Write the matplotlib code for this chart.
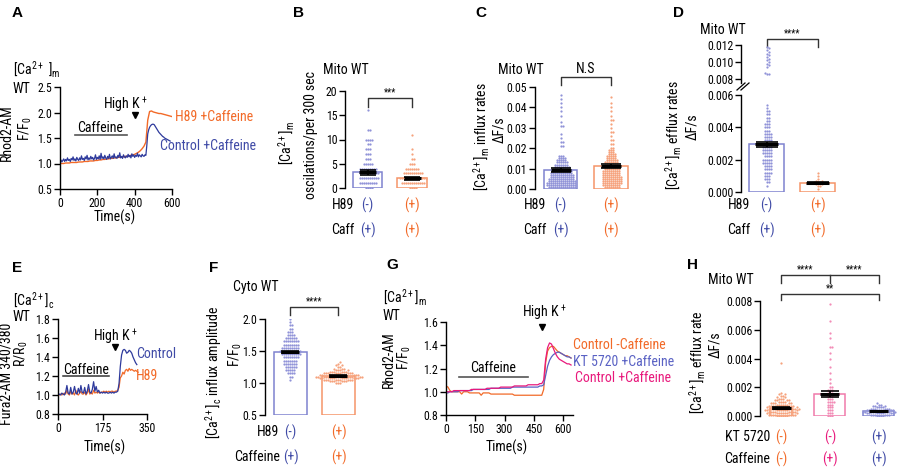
import numpy as np
import matplotlib
matplotlib.use('Agg')
import matplotlib.pyplot as plt
from matplotlib import font_manager
from matplotlib.transforms import Affine2D, blended_transform_factory
from matplotlib.lines import Line2D

# ---------------- data ----------------
# A: mito Ca2+ traces (Rhod2, F/F0)
a_t_ctrl = np.arange(0, 595, 5)
a_ctrl = [1.04, 1.07, 1.03, 1.06, 1.09, 1.04, 1.08, 1.05, 1.11, 1.06,
          1.08, 1.04, 1.10, 1.07, 1.13, 1.06, 1.09, 1.05, 1.12, 1.08,
          1.06, 1.11, 1.07, 1.15, 1.08, 1.10, 1.06, 1.13, 1.09, 1.16,
          1.07, 1.11, 1.08, 1.14, 1.09, 1.12, 1.07, 1.10, 1.17, 1.08,
          1.12, 1.09, 1.15, 1.08, 1.20, 1.10, 1.13, 1.09, 1.16, 1.11,
          1.08, 1.14, 1.10, 1.18, 1.09, 1.12, 1.15, 1.10, 1.19, 1.11,
          1.13, 1.10, 1.16, 1.12, 1.21, 1.11, 1.14, 1.10, 1.17, 1.13,
          1.11, 1.15, 1.12, 1.18, 1.13, 1.16, 1.11, 1.19, 1.14, 1.17,
          1.12, 1.16, 1.14, 1.20, 1.13, 1.17, 1.15, 1.13, 1.18, 1.15,
          1.14, 1.17, 1.16,
          1.35, 1.58, 1.66, 1.71, 1.74, 1.76, 1.77, 1.77, 1.76, 1.73,
          1.70, 1.67, 1.64, 1.61, 1.59, 1.57, 1.55, 1.53, 1.52, 1.50,
          1.49, 1.48, 1.47, 1.46, 1.45, 1.44]
a_t_h89 = np.arange(0, 610, 10)
a_h89 = [1.00, 1.00, 1.00, 1.01, 1.01, 1.01, 1.02, 1.02, 1.02, 1.02,
         1.03, 1.03, 1.03, 1.04, 1.04, 1.04, 1.05, 1.05, 1.05, 1.06,
         1.06, 1.07, 1.07, 1.08, 1.08, 1.09, 1.09, 1.10, 1.10, 1.11,
         1.11, 1.12, 1.12, 1.13, 1.13, 1.14, 1.14, 1.15, 1.16, 1.17,
         1.18, 1.20, 1.22, 1.25, 1.29, 1.34, 1.42, 1.85, 2.02, 2.03,
         2.01, 2.00, 1.99, 1.98, 1.98, 1.97, 1.96, 1.95, 1.94, 1.93, 1.92]

# B: oscillation counts (value rows and number of cells in each row)
b_ctrl_vals = [0, 1, 2, 3, 4, 5, 6, 7, 8, 9, 10, 12, 16]
b_ctrl_n = [4, 9, 10, 10, 9, 5, 3, 3, 3, 2, 4, 2, 1]
b_h89_vals = [0, 1, 2, 3, 4, 5, 6, 7, 8, 11]
b_h89_n = [4, 12, 14, 10, 7, 3, 2, 1, 1, 1]
b_mean = [3.2, 2.0]
b_sem = [0.45, 0.25]

# C: influx rates
c_ctrl_vals = [0.001, 0.002, 0.003, 0.004, 0.005, 0.006, 0.007, 0.008, 0.009,
               0.010, 0.011, 0.012, 0.013, 0.014, 0.015, 0.016, 0.021, 0.023,
               0.025, 0.027, 0.031, 0.033, 0.036, 0.038, 0.040, 0.042, 0.044, 0.046]
c_ctrl_n = [14, 15, 15, 14, 13, 12, 12, 11, 10, 9, 8, 7, 6, 5, 4, 3, 2, 2,
            1, 1, 2, 1, 1, 1, 1, 1, 1, 1]
c_h89_vals = [0.001, 0.002, 0.003, 0.004, 0.005, 0.006, 0.007, 0.008, 0.009,
              0.010, 0.011, 0.012, 0.013, 0.014, 0.015, 0.016, 0.017, 0.018,
              0.019, 0.020, 0.022, 0.024, 0.026, 0.028, 0.030, 0.032, 0.034,
              0.036, 0.038, 0.040, 0.042, 0.045]
c_h89_n = [8, 9, 10, 10, 10, 10, 9, 9, 9, 8, 8, 7, 7, 6, 5, 5, 4, 3, 3, 2,
           2, 2, 1, 2, 1, 1, 2, 1, 1, 1, 1, 1]
c_mean = [0.0093, 0.0112]
c_sem = [0.0008, 0.0009]

# D: efflux rates (broken axis)
d_ctrl_vals = [0.0004, 0.0006, 0.0008, 0.0010, 0.0012, 0.0014, 0.0016, 0.0018,
               0.0020, 0.0022, 0.0024, 0.0026, 0.0028, 0.0030, 0.0032, 0.0034,
               0.0036, 0.0038, 0.0040, 0.0042, 0.0044, 0.0046, 0.0048, 0.0050,
               0.0052, 0.0054,
               0.0086, 0.0087, 0.0094, 0.0096, 0.0098, 0.0100, 0.0102, 0.0104,
               0.0106, 0.0108, 0.0110, 0.0112, 0.0114, 0.0116, 0.0118]
d_ctrl_n = [1, 2, 3, 3, 4, 4, 4, 5, 5, 4, 5, 5, 5, 4, 4, 4, 4, 3, 3, 3, 2, 2,
            2, 2, 1, 1,
            2, 1, 1, 1, 1, 1, 1, 1, 1, 1, 1, 1, 1, 1, 1]
d_h89_vals = [0.0002, 0.0004, 0.0005, 0.0006, 0.0007, 0.0008, 0.0010, 0.0012]
d_h89_n = [1, 2, 2, 3, 2, 1, 1, 1]
d_mean = [0.00295, 0.00057]
d_sem = [0.00015, 0.00006]

# E: cyto Ca2+ traces (Fura2 ratio)
e_t_ctrl = np.arange(0, 315, 5)
e_ctrl = [1.00, 1.01, 1.00, 1.02, 1.01, 1.00, 1.03, 1.10, 1.02, 1.01,
          1.08, 1.01, 1.03, 1.09, 1.02, 1.01, 1.07, 1.02, 1.10, 1.03,
          1.02, 1.08, 1.01, 1.04, 1.11, 1.03, 1.02, 1.06, 1.14, 1.04,
          1.09, 1.03, 1.05, 1.02, 1.03, 1.02, 1.03, 1.02, 1.03, 1.02,
          1.02, 1.03, 1.02, 1.03, 1.02, 1.03, 1.03, 1.04, 1.12, 1.30,
          1.42, 1.47, 1.48, 1.47, 1.44, 1.45, 1.47, 1.46, 1.44, 1.40,
          1.37, 1.34, 1.32]
e_t_h89 = np.arange(0, 320, 5)
e_h89 = [1.00, 1.00, 1.01, 1.00, 1.01, 1.02, 1.01, 1.05, 1.01, 1.00,
         1.04, 1.01, 1.02, 1.00, 1.05, 1.01, 1.00, 1.02, 1.04, 1.01,
         1.01, 1.03, 1.00, 1.02, 1.06, 1.01, 1.02, 1.01, 1.05, 1.02,
         1.03, 1.02, 1.03, 1.02, 1.03, 1.03, 1.04, 1.03, 1.04, 1.03,
         1.04, 1.03, 1.04, 1.04, 1.03, 1.04, 1.04, 1.05, 1.08, 1.18,
         1.20, 1.24, 1.22, 1.26, 1.27, 1.25, 1.28, 1.26, 1.27, 1.26,
         1.25, 1.26, 1.25, 1.24]

# F: cyto influx amplitude
f_ctrl_vals = [1.05, 1.10, 1.15, 1.20, 1.25, 1.30, 1.35, 1.40, 1.45, 1.50,
               1.55, 1.60, 1.65, 1.70, 1.75, 1.80, 1.85, 1.90, 1.95, 2.00]
f_ctrl_n = [1, 2, 4, 5, 6, 7, 7, 8, 10, 11, 9, 8, 8, 6, 4, 3, 2, 2, 1, 1]
f_h89_vals = [1.00, 1.025, 1.05, 1.075, 1.10, 1.125, 1.15, 1.175, 1.20,
              1.225, 1.25, 1.275, 1.30, 1.325]
f_h89_n = [3, 6, 9, 11, 13, 11, 9, 6, 4, 3, 2, 2, 1, 1]
f_mean = [1.49, 1.11]
f_sem = [0.015, 0.01]

# G: mito Ca2+ traces with KT 5720
g_t = np.arange(0, 650, 10)
g_ctrl_nocaf = [1.05, 1.04, 1.01, 1.00, 1.00, 1.00, 1.00, 1.00, 0.98, 1.00,
                1.00, 1.00, 0.99, 0.99, 0.99, 0.99, 0.99, 0.99, 0.97, 0.99,
                0.99, 0.99, 0.99, 0.98, 0.98, 0.98, 0.98, 0.98, 0.98, 0.98,
                0.98, 0.98, 0.98, 0.98, 0.98, 0.97, 0.97, 0.97, 0.97, 0.97,
                0.97, 0.97, 0.97, 0.97, 0.97, 0.97, 0.97, 0.97, 0.97, 0.97,
                1.02, 1.25, 1.35, 1.38, 1.39, 1.39, 1.37, 1.35, 1.34, 1.33,
                1.32, 1.31, 1.31, 1.30, 1.29]
g_kt = [0.99, 0.99, 1.00, 1.00, 1.00, 1.00, 1.00, 1.01, 1.01, 1.01,
        1.01, 1.01, 1.01, 1.01, 1.02, 1.02, 1.02, 1.02, 1.02, 1.02,
        1.02, 1.02, 1.02, 1.03, 1.03, 1.03, 1.03, 1.03, 1.03, 1.03,
        1.03, 1.03, 1.03, 1.03, 1.04, 1.04, 1.04, 1.04, 1.04, 1.04,
        1.04, 1.04, 1.04, 1.04, 1.04, 1.04, 1.04, 1.04, 1.05, 1.05,
        1.06, 1.14, 1.22, 1.27, 1.30, 1.32, 1.33, 1.34, 1.34, 1.33,
        1.32, 1.31, 1.30, 1.30, 1.29]
g_ctrl_caf = [1.00, 1.00, 1.00, 1.00, 1.01, 1.01, 1.01, 1.01, 1.01, 1.01,
              1.01, 1.01, 1.01, 1.02, 1.02, 1.02, 1.02, 1.02, 1.02, 1.02,
              1.02, 1.03, 1.03, 1.03, 1.03, 1.03, 1.03, 1.03, 1.04, 1.04,
              1.04, 1.04, 1.04, 1.04, 1.04, 1.05, 1.05, 1.05, 1.05, 1.05,
              1.05, 1.05, 1.06, 1.06, 1.06, 1.06, 1.06, 1.06, 1.07, 1.07,
              1.10, 1.28, 1.38, 1.42, 1.41, 1.37, 1.33, 1.30, 1.28, 1.27,
              1.26, 1.25, 1.24, 1.24, 1.23]

# H: efflux rates with KT 5720
h_nocaf_vals = [0.0000, 0.0001, 0.0002, 0.0003, 0.0004, 0.0005, 0.0006, 0.0007,
                0.0008, 0.0009, 0.0010, 0.0011, 0.0012, 0.0013, 0.0014, 0.0015,
                0.0016, 0.0037]
h_nocaf_n = [6, 8, 8, 8, 9, 9, 8, 7, 6, 5, 4, 4, 3, 2, 2, 2, 1, 1]
h_caf_vals = [0.0000, 0.0002, 0.0004, 0.0006, 0.0008, 0.0010, 0.0012, 0.0014,
              0.0016, 0.0018, 0.0020, 0.0023, 0.0026, 0.0030, 0.0034, 0.0040,
              0.0044, 0.0048, 0.0054, 0.0058, 0.0066, 0.0078]
h_caf_n = [3, 3, 3, 3, 3, 4, 3, 3, 3, 3, 2, 1, 1, 1, 1, 1, 1, 2, 1, 1, 1, 1]
h_kt_vals = [0.0000, 0.0001, 0.0002, 0.0003, 0.0004, 0.0005, 0.0006, 0.0007,
             0.0008, 0.0009]
h_kt_n = [4, 6, 8, 9, 8, 6, 4, 3, 2, 1]
h_mean = [0.00055, 0.00155, 0.00033]
h_sem = [0.00007, 0.0002, 0.00003]

# ---------------- style ----------------
NAVY = '#2e3a9c'
KTBLUE = '#5a62c4'
BLUE_TXT = '#3f4aa6'
BLUE_BAR = '#7f83cf'
BLUE_DOT = '#9093d8'
ORANGE = '#f26a28'
ORANGE_BAR = '#f59468'
ORANGE_DOT = '#f6a27c'
MAGENTA = '#e8197c'
MAG_BAR = '#f07aab'
MAG_DOT = '#f28cb6'

# condensed sans if one is installed, otherwise a smaller Liberation Sans
names = {f.name for f in font_manager.fontManager.ttflist}
FONT, K = 'Liberation Sans', 0.9
for cand in ['Liberation Sans Narrow', 'Roboto Condensed', 'Arial Narrow',
             'Open Sans Condensed', 'DejaVu Sans Condensed']:
    if cand in names:
        FONT, K = cand, 1.0
        break
plt.rcParams['font.family'] = [FONT, 'DejaVu Sans']
plt.rcParams['mathtext.default'] = 'regular'
plt.rcParams['axes.linewidth'] = 1.0

TICK = 8.5 * K
LAB = 10 * K

W, H = 897, 471
fig = plt.figure(figsize=(W / 100, H / 100), dpi=100)
PIX = Affine2D().scale(1 / W, -1 / H).translate(0, 1) + fig.transFigure


def txt(x, y, s, size=None, ha='left', va='center', **kw):
    fig.text(x, y, s, transform=PIX, fontsize=size or LAB, ha=ha, va=va, **kw)


def add_ax(l, t, r, b):
    ax = fig.add_axes([l / W, 1 - b / H, (r - l) / W, (b - t) / H])
    ax.patch.set_alpha(0)
    for s in ['top', 'right']:
        ax.spines[s].set_visible(False)
    ax.tick_params(direction='out', length=4, width=1, labelsize=TICK, pad=1.5)
    return ax


def no_xaxis(ax):
    ax.spines['bottom'].set_visible(False)
    ax.tick_params(axis='x', bottom=False, labelbottom=False)


def swarm(vals, counts, ypx, xpx, d=2.0):
    v = np.sort(np.repeat(vals, counts).astype(float))
    steps = [0.0]
    for i in range(1, 80):
        steps += [i * d * 0.5, -i * d * 0.5]
    placed = []
    offs = []
    for y in v * ypx:
        for off in steps:
            ok = True
            for px, py in reversed(placed):
                if y - py >= d:
                    break
                if (px - off) ** 2 + (py - y) ** 2 < d * d:
                    ok = False
                    break
            if ok:
                break
        placed.append((off, y))
        offs.append(off / xpx)
    return v, np.array(offs)


def ax_px(ax):
    bb = ax.get_position()
    x0, x1 = ax.get_xlim()
    y0, y1 = ax.get_ylim()
    return bb.height * H / (y1 - y0), bb.width * W / (x1 - x0)


def bars(ax, groups, means, sems, widths, edges, dots, cap_px, base=0.0):
    ypx, xpx = ax_px(ax)
    for i, ((vals, n), m, se, w, ec, dc) in enumerate(
            zip(groups, means, sems, widths, edges, dots)):
        ax.bar(i, m - base, width=w, bottom=base, fill=False, edgecolor=ec,
               linewidth=1.1, zorder=2)
        v, off = swarm(vals, n, ypx, xpx)
        ax.scatter(i + off, v, s=2.6, color=dc, linewidths=0, zorder=3)
        ax.errorbar(i, m, yerr=se, fmt='none', ecolor='k', elinewidth=1.2,
                    capsize=cap_px / 2 / 1.389, capthick=1.2, zorder=4)
        hw = cap_px / 2 / xpx
        ax.hlines(m, i - hw, i + hw, colors='k', lw=2.2, zorder=4)


def bracket(ax, x0, x1, ytop, ybot, label, size=7):
    ax.plot([x0, x0, x1, x1], [ybot, ytop, ytop, ybot], color='#333333',
            lw=1, clip_on=False)
    ax.annotate(label, xy=((x0 + x1) / 2, ytop), xytext=(0, 0.5),
                textcoords='offset points', ha='center', va='bottom',
                fontsize=size, annotation_clip=False)


def row(ax, y, name, name_right, marks, colors):
    txt(name_right, y, name, ha='right')
    tr = blended_transform_factory(ax.transData, PIX)
    for i, (m, c) in enumerate(zip(marks, colors)):
        ax.text(i, y, m, transform=tr, color=c, ha='center', va='center',
                fontsize=LAB)


# ---------------- panel A ----------------
ax = add_ax(60, 87, 172, 189)
ax.plot(a_t_h89, a_h89, color=ORANGE, lw=1)
ax.plot(a_t_ctrl, a_ctrl, color=NAVY, lw=0.9)
ax.set_xlim(0, 600)
ax.set_ylim(0.5, 2.5)
ax.set_xticks([0, 200, 400, 600])
ax.set_yticks([0.5, 1.0, 1.5, 2.0, 2.5])
ax.plot([400], [1.95], marker='v', color='k', ms=5, clip_on=False)
ax.plot([80, 360], [1.56, 1.56], color='#555555', lw=1.2, clip_on=False)
ax.text(214, 1.70, 'Caffeine', ha='center', va='center', fontsize=LAB)
txt(125, 104, 'High K$^+$', ha='center')
txt(175, 117, 'H89 +Caffeine', color=ORANGE)
txt(160, 146, 'Control +Caffeine', color=BLUE_TXT)
txt(12, 13, 'A', size=11, weight='bold', family='Liberation Sans')
txt(13, 74, '[Ca$^{2+}$ ]$_m$', va='baseline')
txt(13, 93, 'WT', va='baseline')
txt(7, 133, 'Rhod2-AM', rotation=90, ha='center')
txt(25, 129, 'F/F$_0$', rotation=90, ha='center')
txt(115, 217, 'Time(s)', ha='center')

# ---------------- panel B ----------------
ax = add_ax(345, 91, 432, 188)
no_xaxis(ax)
ax.set_xlim(-0.506, 1.444)
ax.set_ylim(0, 20)
ax.set_yticks([0, 5, 10, 15, 20])
bars(ax, [(b_ctrl_vals, b_ctrl_n), (b_h89_vals, b_h89_n)], b_mean, b_sem,
     [0.65, 0.67], [BLUE_BAR, ORANGE_BAR], [BLUE_DOT, ORANGE_DOT], 17)
bracket(ax, 0, 1, 18.6, 16.7, '***')
txt(293, 13, 'B', size=11, weight='bold', family='Liberation Sans')
txt(323, 70, 'Mito WT')
txt(286, 143, '[Ca$^{2+}$]$_m$', rotation=90, ha='center')
txt(311, 135, 'oscilations/per 300 sec', rotation=90, ha='center')
row(ax, 205, 'H89', 354, ['(-)', '(+)'], [BLUE_TXT, ORANGE])
row(ax, 230, 'Caff', 354, ['(+)', '(+)'], [BLUE_TXT, ORANGE])

# ---------------- panel C ----------------
ax = add_ax(535, 87, 640, 189)
no_xaxis(ax)
ax.set_xlim(-0.505, 1.574)
ax.set_ylim(0, 0.05)
ax.set_yticks([0, 0.01, 0.02, 0.03, 0.04, 0.05])
ax.set_yticklabels(['0.00', '0.01', '0.02', '0.03', '0.04', '0.05'])
bars(ax, [(c_ctrl_vals, c_ctrl_n), (c_h89_vals, c_h89_n)], c_mean, c_sem,
     [0.65, 0.67], [BLUE_BAR, ORANGE_BAR], [BLUE_DOT, ORANGE_DOT], 20)
bracket(ax, 0, 1, 0.0549, 0.0512, 'N.S', size=LAB)
txt(475, 13, 'C', size=11, weight='bold', family='Liberation Sans')
txt(498, 70, 'Mito WT')
txt(481, 137, '[Ca$^{2+}$]$_m$ influx rates', rotation=90, ha='center')
txt(499, 130, 'ΔF/s', rotation=90, ha='center')
row(ax, 205, 'H89', 546, ['(-)', '(+)'], [BLUE_TXT, ORANGE])
row(ax, 230, 'Caff', 546, ['(+)', '(+)'], [BLUE_TXT, ORANGE])

# ---------------- panel D (broken axis) ----------------
ax = add_ax(741, 95, 845, 192)
no_xaxis(ax)
ax.set_xlim(-0.5, 1.539)
ax.set_ylim(0, 0.006)
ax.set_yticks([0, 0.002, 0.004, 0.006])
ax.set_yticklabels(['0.000', '0.002', '0.004', '0.006'])
bars(ax, [(d_ctrl_vals, d_ctrl_n), (d_h89_vals, d_h89_n)], d_mean, d_sem,
     [0.69, 0.69], [BLUE_BAR, ORANGE_BAR], [BLUE_DOT, ORANGE_DOT], 23)
axu = add_ax(741, 45, 845, 83)
no_xaxis(axu)
axu.set_xlim(-0.5, 1.539)
axu.set_ylim(0.00753, 0.012)
axu.set_yticks([0.008, 0.010, 0.012])
axu.set_yticklabels(['0.008', '0.010', '0.012'])
ypx, xpx = ax_px(axu)
hi = [(v, n) for v, n in zip(d_ctrl_vals, d_ctrl_n) if v > 0.007]
v, off = swarm([p[0] for p in hi], [p[1] for p in hi], ypx, xpx)
axu.scatter(off, v, s=2.6, color=BLUE_DOT, linewidths=0, zorder=3)
bracket(axu, 0, 1, 0.0127, 0.01176, '****')
for dx in (0, 4):
    fig.add_artist(Line2D([737 + dx, 745 + dx], [90, 83], transform=PIX,
                          color='k', lw=0.9))
txt(673, 13, 'D', size=11, weight='bold', family='Liberation Sans')
txt(700, 30, 'Mito WT')
txt(673, 135, '[Ca$^{2+}$]$_m$ efflux rates', rotation=90, ha='center')
txt(692, 127, 'ΔF/s', rotation=90, ha='center')
row(ax, 205, 'H89', 750, ['(-)', '(+)'], [BLUE_TXT, ORANGE])
row(ax, 230, 'Caff', 750, ['(+)', '(+)'], [BLUE_TXT, ORANGE])

# ---------------- panel E ----------------
ax = add_ax(58, 319, 147, 414)
ax.plot(e_t_h89, e_h89, color=ORANGE, lw=0.9)
ax.plot(e_t_ctrl, e_ctrl, color=NAVY, lw=0.9)
ax.set_xlim(0, 350)
ax.set_ylim(0.8, 1.8)
ax.set_xticks([0, 175, 350])
ax.set_yticks([0.8, 1.0, 1.2, 1.4, 1.6, 1.8])
ax.plot([224], [1.505], marker='v', color='k', ms=5, clip_on=False)
ax.plot([20, 200], [1.2, 1.2], color='#333333', lw=1.1, clip_on=False)
ax.text(110, 1.265, 'Caffeine', ha='center', va='center', fontsize=LAB)
txt(115, 336, 'High K$^+$', ha='center')
txt(136, 354, 'Control', color=BLUE_TXT)
txt(136, 376, 'H89', color=ORANGE)
txt(12, 268, 'E', size=11, weight='bold', family='Liberation Sans')
txt(13, 305, '[Ca$^{2+}$]$_c$', va='baseline')
txt(13, 321, 'WT', va='baseline')
txt(7, 374, 'Fura2-AM 340/380', rotation=90, ha='center')
txt(21, 354, 'R/R$_0$', rotation=90, ha='center')
txt(105, 447, 'Time(s)', ha='center')

# ---------------- panel F ----------------
ax = add_ax(265, 319, 365, 415)
no_xaxis(ax)
ax.set_xlim(-0.531, 1.552)
ax.set_ylim(0.5, 2.0)
ax.set_yticks([0.5, 1.0, 1.5, 2.0])
bars(ax, [(f_ctrl_vals, f_ctrl_n), (f_h89_vals, f_h89_n)], f_mean, f_sem,
     [0.69, 0.69], [BLUE_BAR, ORANGE_BAR], [BLUE_DOT, ORANGE_DOT], 18,
     base=0.5)
bracket(ax, 0, 1, 2.1875, 2.0625, '****')
txt(209, 268, 'F', size=11, weight='bold', family='Liberation Sans')
txt(233, 287, 'Cyto WT')
txt(214, 373, '[Ca$^{2+}$]$_c$ influx amplitude', rotation=90, ha='center')
txt(235, 355, 'F/F$_0$', rotation=90, ha='center')
row(ax, 432, 'H89', 279, ['(-)', '(+)'], [BLUE_TXT, ORANGE])
row(ax, 457, 'Caffeine', 280, ['(+)', '(+)'], [BLUE_TXT, ORANGE])

# ---------------- panel G ----------------
ax = add_ax(446, 322, 573, 415)
ax.plot(g_t, g_ctrl_nocaf, color=ORANGE, lw=0.9)
ax.plot(g_t, g_kt, color=KTBLUE, lw=0.9)
ax.plot(g_t, g_ctrl_caf, color=MAGENTA, lw=0.9)
ax.set_xlim(0, 650)
ax.set_ylim(0.8, 1.6)
ax.set_xticks([0, 150, 300, 450, 600])
ax.set_yticks([0.8, 1.0, 1.2, 1.4, 1.6])
ax.plot([491], [1.557], marker='v', color='k', ms=5, clip_on=False)
ax.plot([67, 420], [1.127, 1.127], color='#555555', lw=1.2, clip_on=False)
ax.text(240, 1.204, 'Caffeine', ha='center', va='center', fontsize=LAB)
txt(544, 312, 'High K$^+$', ha='center')
txt(573, 345, 'Control -Caffeine', color=ORANGE)
txt(573, 362, 'KT 5720 +Caffeine', color=KTBLUE)
txt(575, 378, 'Control +Caffeine', color=MAGENTA)
txt(386, 265, 'G', size=11, weight='bold', family='Liberation Sans')
txt(383, 302, '[Ca$^{2+}$]$_m$', va='baseline')
txt(383, 320, 'WT', va='baseline')
txt(389, 360, 'Rhod2-AM', rotation=90, ha='center')
txt(404, 358, 'F/F$_0$', rotation=90, ha='center')
txt(507, 447, 'Time(s)', ha='center')

# ---------------- panel H ----------------
ax = add_ax(760, 301, 897, 416)
no_xaxis(ax)
ax.set_xlim(-0.431, 2.379)
ax.set_ylim(0, 0.008)
ax.set_yticks([0, 0.002, 0.004, 0.006, 0.008])
ax.set_yticklabels(['0.000', '0.002', '0.004', '0.006', '0.008'])
bars(ax, [(h_nocaf_vals, h_nocaf_n), (h_caf_vals, h_caf_n), (h_kt_vals, h_kt_n)],
     h_mean, h_sem, [0.45, 0.64, 0.64], [ORANGE_BAR, MAG_BAR, BLUE_BAR],
     [ORANGE_DOT, MAG_DOT, BLUE_DOT], 19)
ax.plot([0, 0, 2, 2], [0.00925, 0.0098, 0.0098, 0.00925], color='#333333',
        lw=1, clip_on=False)
ax.plot([1, 1], [0.0098, 0.00925], color='#333333', lw=1, clip_on=False)
for xm in (0.5, 1.5):
    ax.annotate('****', xy=(xm, 0.0098), xytext=(0, 0.5),
                textcoords='offset points', ha='center', va='bottom',
                fontsize=7, annotation_clip=False)
bracket(ax, 0, 2, 0.00849, 0.00807, '**')
txt(687, 265, 'H', size=11, weight='bold', family='Liberation Sans')
txt(708, 280, 'Mito WT')
txt(697, 362, '[Ca$^{2+}$]$_m$ efflux rate', rotation=90, ha='center')
txt(715, 345, 'ΔF/s', rotation=90, ha='center')
row(ax, 437, 'KT 5720', 770, ['(-)', '(-)', '(+)'], [ORANGE, MAGENTA, BLUE_TXT])
row(ax, 459, 'Caffeine', 770, ['(-)', '(+)', '(+)'], [ORANGE, MAGENTA, BLUE_TXT])

fig.savefig('out.png', dpi=100)
